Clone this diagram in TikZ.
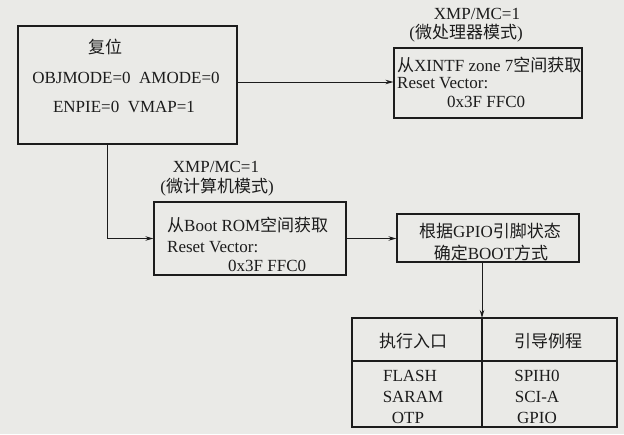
\documentclass[tikz,border=0pt]{standalone}
\usepackage{fontspec}
\setmainfont{Liberation Serif}
\newfontfamily\cjk{Noto Sans CJK SC}
\newcommand\zh[1]{{\cjk #1}}
\usetikzlibrary{arrows.meta}
\definecolor{paper}{RGB}{234,234,231}
\definecolor{ink}{RGB}{28,28,28}
\begin{document}
\begin{tikzpicture}[x=1pt,y=-1pt,
  box/.style={draw=ink,line width=1.2pt,inner sep=0pt,rectangle},
  txt/.style={font=\fontsize{17}{20}\selectfont,inner sep=0pt,text=ink},
  arr/.style={draw=ink,line width=0.9pt,-{Stealth[length=8pt,width=4.5pt]}},
  ln/.style={draw=ink,line width=1.2pt}]
\fill[paper] (0,0) rectangle (624,434);
\useasboundingbox (0,0) rectangle (624,434);

% boxes
\node[box,minimum width=219pt,minimum height=118pt] (reset) at (127.5,85) {};
\node[box,minimum width=188pt,minimum height=70pt] (xintf) at (488,83) {};
\node[box,minimum width=192pt,minimum height=73pt] (bootrom) at (250,238.5) {};
\node[box,minimum width=182pt,minimum height=48pt] (gpio) at (488,238) {};
\node[box,minimum width=265pt,minimum height=109pt] (tbl) at (484.5,372.5) {};
\coordinate (divtop) at (482,318);
\coordinate (divbot) at (482,427);
\coordinate (hl) at (352,361);
\coordinate (hr) at (617,361);
\draw[ln] (divtop) -- (divbot);
\draw[ln] (hl) -- (hr);

% box 1 text
\node[txt,anchor=base] (r1) at (105,53) {\zh{复位}};
\node[txt,anchor=base] (r2) at (126,83) {OBJMODE=0\hspace{0.5em}AMODE=0};
\node[txt,anchor=base] (r3) at (124,112) {ENPIE=0\hspace{0.5em}VMAP=1};

% box 2 text
\node[txt,anchor=base] (l1) at (477,19) {XMP/MC=1};
\node[txt,anchor=base] (l2) at (466,38) {(\zh{微处理器模式})};
\node[txt,anchor=base west] (x1) at (397,71) {\zh{从}XINTF zone 7\zh{空间获取}};
\node[txt,anchor=base west] (x2) at (397,88) {Reset Vector:};
\node[txt,anchor=base west] (x3) at (447,107) {0x3F FFC0};

% box 3 text
\node[txt,anchor=base] (l3) at (216,172) {XMP/MC=1};
\node[txt,anchor=base] (l4) at (217,192) {(\zh{微计算机模式})};
\node[txt,anchor=base west] (b1) at (167,231) {\zh{从}Boot ROM\zh{空间获取}};
\node[txt,anchor=base west] (b2) at (167,252) {Reset Vector:};
\node[txt,anchor=base west] (b3) at (228,271) {0x3F FFC0};

% box 4 text
\node[txt,anchor=base] (g1) at (490,237) {\zh{根据}GPIO\zh{引脚状态}};
\node[txt,anchor=base] (g2) at (491,259) {\zh{确定}BOOT\zh{方式}};

% table text
\node[txt,anchor=base] (h1) at (413,347) {\zh{执行入口}};
\node[txt,anchor=base] (h2) at (548,347) {\zh{引导例程}};
\node[txt,anchor=base] (c1) at (410,381) {FLASH};
\node[txt,anchor=base] (c2) at (413,402) {SARAM};
\node[txt,anchor=base] (c3) at (408,423) {OTP};
\node[txt,anchor=base] (d1) at (537,381) {SPIH0};
\node[txt,anchor=base] (d2) at (537,402) {SCI-A};
\node[txt,anchor=base] (d3) at (537,423) {GPIO};

% connectors
\draw[arr] ([yshift=3pt]reset.east) -- ([yshift=3pt]reset.east -| xintf.west);
\draw[arr] ([xshift=-20.5pt]reset.south) |- (bootrom.west);
\draw[arr] (bootrom.east) -- (bootrom.east -| gpio.west);
\draw[arr] (gpio.south -| divtop) -- (divtop);
\end{tikzpicture}
\end{document}
